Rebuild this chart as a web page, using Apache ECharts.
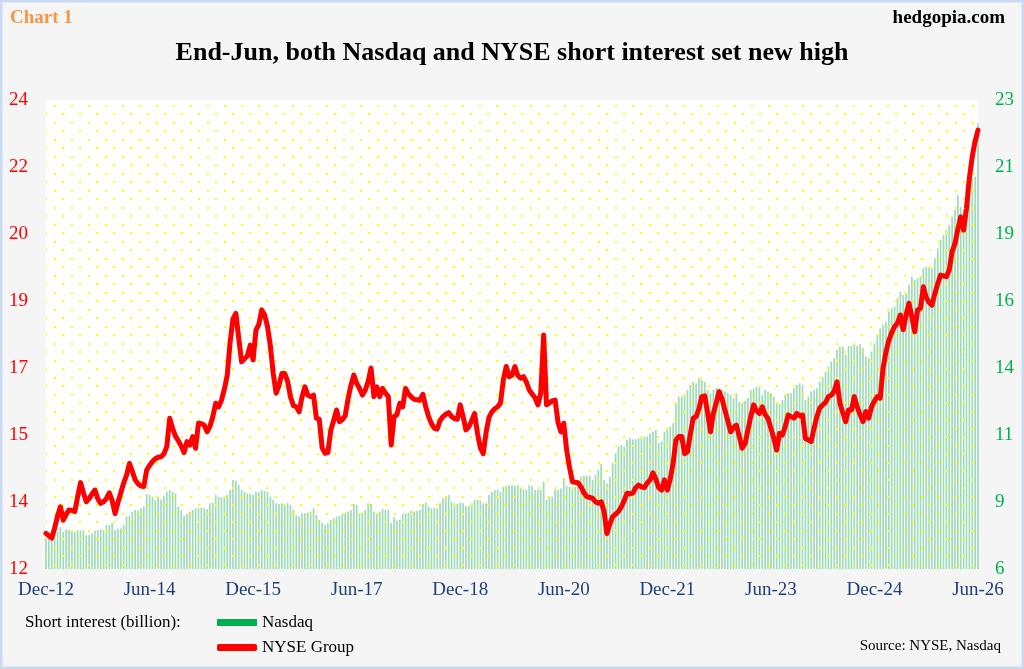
<!DOCTYPE html>
<html><head><meta charset="utf-8">
<script src="https://cdn.jsdelivr.net/npm/echarts@6/dist/echarts.min.js"></script>
<style>html,body{margin:0;padding:0;background:#f5f5f5}#c{width:1024px;height:669px}</style>
</head><body><div id="c"></div>
<script>
const xTickLabels = ['Dec-12','Jun-14','Dec-15','Jun-17','Dec-18','Jun-20','Dec-21','Jun-23','Dec-24','Jun-26'];
const leftTickLabels = ['12','14','15','17','19','20','22','24'];
const rightTickLabels = ['6','9','11','14','16','19','21','23'];

// Nasdaq short interest (right axis), semi-monthly
const nasdaq = [
7.11,7.11,7.23,7.29,7.35,7.51,7.35,7.44,7.41,7.39,
7.35,7.41,7.39,7.41,7.23,7.23,7.29,7.39,7.41,7.44,
7.41,7.59,7.59,7.66,7.41,7.46,7.47,7.59,7.90,7.93,
8.08,8.14,8.12,8.20,8.26,8.72,8.68,8.62,8.50,8.62,
8.52,8.64,8.80,8.86,8.80,8.74,8.26,8.14,7.93,8.00,
8.08,8.14,8.20,8.20,8.23,8.20,8.17,8.38,8.40,8.68,
8.62,8.60,8.62,8.68,8.86,9.23,9.20,9.05,8.86,8.80,
8.74,8.72,8.68,8.80,8.80,8.86,8.83,8.80,8.62,8.50,
8.38,8.36,8.38,8.32,8.38,8.32,8.14,7.96,7.90,8.02,
8.02,8.04,8.08,8.20,7.96,7.78,7.68,7.60,7.66,7.78,
7.84,7.90,7.93,8.00,8.04,8.08,8.14,8.36,8.32,8.02,
8.04,8.14,8.38,8.36,8.08,8.00,8.08,8.17,8.14,8.14,
7.66,7.88,7.76,7.78,8.00,8.02,8.04,8.11,8.08,8.11,
8.14,8.36,8.40,8.26,8.20,8.23,8.20,8.38,8.56,8.64,
8.68,8.44,8.38,8.36,8.40,8.38,8.28,8.28,8.38,8.50,
8.52,8.48,8.38,8.38,8.68,8.80,8.86,8.88,8.80,8.98,
9.01,9.04,9.04,9.01,9.04,8.92,8.88,8.88,9.04,9.01,
8.86,8.88,8.86,9.17,8.50,8.60,8.62,8.88,8.86,8.92,
9.29,9.01,8.98,8.96,8.98,9.23,9.35,9.39,9.38,9.39,
9.23,9.41,9.59,9.80,9.23,9.11,9.35,9.84,10.19,10.43,
10.49,10.43,10.68,10.74,10.70,10.70,10.74,10.74,10.80,10.80,
10.92,10.98,11.04,10.56,10.62,10.98,11.04,11.16,11.28,12.01,
12.25,12.25,12.27,12.49,12.67,12.79,12.73,12.91,12.85,12.79,
12.49,12.37,12.49,12.55,12.52,12.49,12.43,12.37,12.31,12.19,
12.37,12.06,12.01,12.10,12.20,12.49,12.55,12.61,12.58,12.31,
12.49,12.43,12.37,12.25,12.01,11.98,12.13,12.31,12.37,12.37,
12.55,12.67,12.73,12.67,12.13,12.25,12.43,12.49,12.55,12.79,
12.97,13.15,13.33,13.52,13.64,13.94,14.06,14.06,13.76,14.09,
14.09,14.12,14.09,14.15,14.00,13.70,13.64,13.88,14.18,14.48,
14.72,14.86,14.96,15.33,15.45,15.51,15.81,16.05,15.93,15.99,
16.30,16.60,16.48,16.54,16.60,16.90,16.96,16.93,16.90,17.26,
17.62,17.93,18.11,18.29,18.47,18.77,19.01,19.56,19.13,19.01,
19.92,20.06,20.16,20.22,22.15
];

// NYSE Group short interest (left axis), semi-monthly
const nyse = [
12.91,12.85,12.79,13.05,13.35,13.59,13.25,13.40,13.51,13.50,
13.47,13.85,14.21,13.95,13.72,13.80,13.92,14.02,13.80,13.68,
13.72,13.80,13.95,13.75,13.42,13.70,13.95,14.20,14.40,14.70,
14.50,14.28,14.18,14.12,14.11,14.53,14.65,14.75,14.82,14.86,
14.87,14.95,15.13,15.86,15.60,15.40,15.28,15.15,14.98,15.26,
15.17,15.39,15.09,15.73,15.72,15.68,15.51,15.65,15.90,16.24,
16.15,16.32,16.60,16.95,17.80,18.40,18.54,17.90,17.30,17.38,
17.45,17.73,17.35,18.12,18.26,18.63,18.50,18.20,17.70,17.00,
16.50,16.70,17.00,17.00,16.80,16.40,16.18,16.15,16.02,16.40,
16.66,16.45,16.41,16.45,15.86,15.83,15.10,14.96,14.98,15.55,
15.80,16.07,15.77,15.82,15.92,16.35,16.70,16.96,16.75,16.62,
16.45,16.58,16.80,17.14,16.41,16.66,16.41,16.62,16.50,16.41,
15.17,15.90,15.95,16.24,16.15,16.62,16.48,16.40,16.34,16.33,
16.32,16.47,16.15,15.90,15.72,15.60,15.58,15.80,15.90,15.96,
16.00,15.90,15.85,15.83,16.20,15.90,15.56,15.64,15.80,15.98,
15.47,15.10,14.95,15.50,15.88,16.02,16.10,16.15,16.25,16.85,
17.18,16.92,16.96,17.18,16.95,16.88,16.92,16.78,16.58,16.48,
16.38,16.20,16.50,17.99,16.20,16.25,16.30,16.32,15.75,15.51,
15.73,15.04,14.60,14.23,14.22,14.20,14.10,13.95,13.85,13.83,
13.81,13.72,13.68,13.72,13.47,12.91,13.15,13.34,13.40,13.47,
13.59,13.75,13.94,13.92,13.94,14.08,14.15,14.10,14.08,14.20,
14.28,14.46,14.30,14.08,14.02,14.28,14.02,14.30,14.70,15.30,
15.39,15.39,14.95,15.00,15.45,15.86,15.90,16.10,16.41,16.43,
16.00,15.51,15.98,16.25,16.54,16.35,16.07,15.80,15.51,15.62,
15.68,15.40,15.09,15.20,15.55,15.90,16.20,16.05,15.98,16.15,
15.95,15.85,15.60,15.35,15.04,15.47,15.43,15.65,15.94,15.90,
15.86,15.98,15.92,15.94,15.34,15.30,15.26,15.60,15.90,16.12,
16.20,16.26,16.41,16.45,16.55,16.79,16.24,16.00,15.77,16.07,
16.07,16.41,16.15,15.95,15.77,16.03,15.86,16.15,16.30,16.41,
16.37,17.14,17.55,17.85,18.05,18.20,18.29,18.50,18.12,18.50,
18.80,18.45,18.07,18.63,18.67,19.22,18.95,18.82,18.75,19.05,
19.30,19.52,19.50,19.48,19.65,20.12,20.33,20.70,21.01,20.67,
21.23,22.00,22.55,22.95,23.23
];

const categories = nasdaq.map((_, i) => i);
const labelStep = (categories.length - 1) / (xTickLabels.length - 1);

const leftMin = 12, leftMax = 24, rightMin = 6, rightMax = 23;
const leftTickValues = leftTickLabels.map((_, k) => leftMin + k * (leftMax - leftMin) / (leftTickLabels.length - 1));
const rightTickValues = rightTickLabels.map((_, k) => rightMin + k * (rightMax - rightMin) / (rightTickLabels.length - 1));

const GL = 46, GT = 100, GW = 932, GH = 469;

const tile = document.createElement('canvas');
tile.width = 17; tile.height = 17;
const tg = tile.getContext('2d');
tg.fillStyle = '#ffff00';
tg.fillRect(3, 3, 2, 2);
tg.fillRect(11, 11, 2, 2);

const serif = "'Liberation Serif', 'Times New Roman', serif";

const chart = echarts.init(document.getElementById('c'), null, {renderer: 'canvas'});
chart.setOption({
  backgroundColor: '#f5f5f5',
  animation: false,
  title: [
    {text: 'End-Jun, both Nasdaq and NYSE short interest set new high', left: 'center', top: 35,
     textStyle: {fontFamily: serif, fontSize: 26, fontWeight: 'bold', color: '#000'}},
    {text: 'Chart 1', left: 5, top: 4, textStyle: {fontFamily: serif, fontSize: 19, fontWeight: 'bold', color: '#f79646'}},
    {text: 'hedgopia.com', right: 14, top: 4, textStyle: {fontFamily: serif, fontSize: 19, fontWeight: 'bold', color: '#000'}},
    {text: 'Short interest (billion):', left: 20, top: 609, textStyle: {fontFamily: serif, fontSize: 17, fontWeight: 'normal', color: '#000'}},
    {text: 'Source: NYSE, Nasdaq', right: 18, top: 634, textStyle: {fontFamily: serif, fontSize: 15, fontWeight: 'normal', color: '#000'}}
  ],
  legend: {
    orient: 'vertical', left: 212, top: 609, itemWidth: 40, itemHeight: 7, itemGap: 8,
    textStyle: {fontFamily: serif, fontSize: 17, color: '#000'},
    data: [
      {name: 'Nasdaq', icon: 'rect', itemStyle: {color: '#00b050'}},
      {name: 'NYSE Group', icon: 'roundRect', itemStyle: {color: '#ff0000'}}
    ]
  },
  grid: {left: GL, top: GT, width: GW, height: GH, show: true, backgroundColor: '#ffffff', borderWidth: 0, containLabel: false},
  xAxis: {
    type: 'category', data: categories, boundaryGap: false,
    axisLine: {show: false}, axisTick: {show: false}, splitLine: {show: false},
    axisLabel: {
      interval: (idx) => Math.abs(idx / labelStep - Math.round(idx / labelStep)) < 1e-6,
      formatter: (v, idx) => xTickLabels[Math.round(idx / labelStep)],
      margin: 12, fontFamily: serif, fontSize: 19, color: '#1f3f7a'
    }
  },
  yAxis: [
    {type: 'value', min: leftMin, max: leftMax, position: 'left',
     axisLine: {show: false}, axisTick: {show: false}, splitLine: {show: false},
     axisLabel: {customValues: leftTickValues, margin: 18, fontFamily: serif, fontSize: 19, color: '#ff0000',
       formatter: (v) => leftTickLabels[Math.round((v - leftMin) / ((leftMax - leftMin) / (leftTickLabels.length - 1)))]}},
    {type: 'value', min: rightMin, max: rightMax, position: 'right',
     axisLine: {show: false}, axisTick: {show: false}, splitLine: {show: false},
     axisLabel: {customValues: rightTickValues, margin: 17, fontFamily: serif, fontSize: 19, color: '#00b050',
       formatter: (v) => rightTickLabels[Math.round((v - rightMin) / ((rightMax - rightMin) / (rightTickLabels.length - 1)))]}}
  ],
  graphic: [
    {type: 'rect', silent: true, z: 3, shape: {x: GL, y: GT, width: GW, height: GH},
     style: {fill: {image: tile, repeat: 'repeat'}}},
    {type: 'rect', silent: true, z: 0, shape: {x: 1, y: 1, width: 1022, height: 667},
     style: {fill: 'none', stroke: '#c9dbf2', lineWidth: 3}}
  ],
  series: [
    {name: 'Nasdaq', type: 'bar', yAxisIndex: 1, data: nasdaq, barWidth: 1.7, z: 2,
     itemStyle: {color: '#9edbb6'}, silent: true},
    {name: 'NYSE Group', type: 'line', yAxisIndex: 0, data: nyse, z: 5, showSymbol: false, symbol: 'none',
     lineStyle: {color: '#ff0000', width: 5, join: 'round', cap: 'round'}, itemStyle: {color: '#ff0000'}, silent: true}
  ]
});
</script></body></html>
